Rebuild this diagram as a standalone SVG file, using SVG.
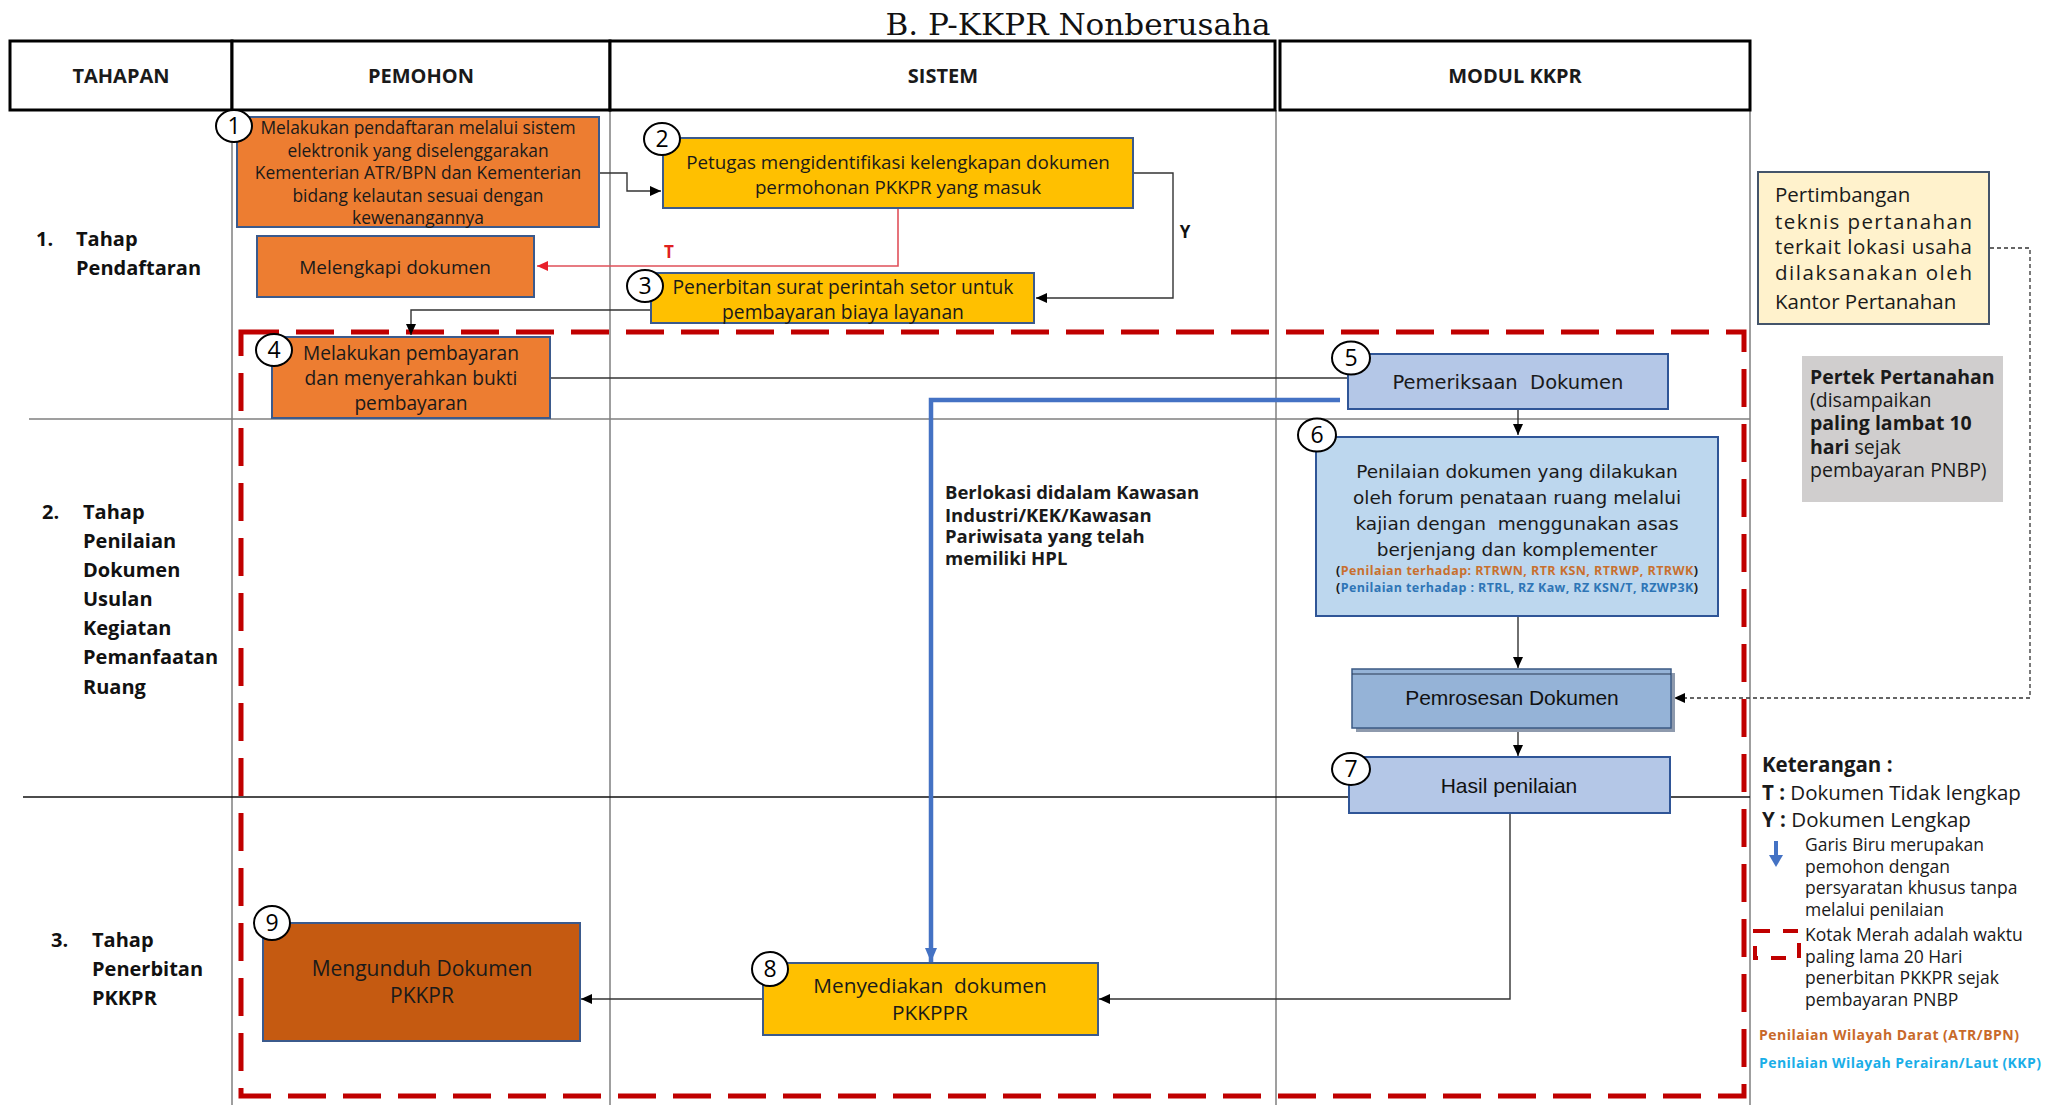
<svg xmlns="http://www.w3.org/2000/svg" width="2054" height="1105" viewBox="0 0 2054 1105">
<defs>
<marker id="ah" markerWidth="12" markerHeight="12" refX="11" refY="6" orient="auto" markerUnits="userSpaceOnUse"><path d="M0,1 L11,6 L0,11 z" fill="#000"/></marker>
<marker id="ahr" markerWidth="12" markerHeight="12" refX="11" refY="6" orient="auto" markerUnits="userSpaceOnUse"><path d="M0,1 L11,6 L0,11 z" fill="#E8202A"/></marker>
<marker id="ahb" markerWidth="16" markerHeight="14" refX="14" refY="7" orient="auto" markerUnits="userSpaceOnUse"><path d="M0,1 L14,7 L0,13 z" fill="#4472C4"/></marker>
</defs>
<style>
.t{font-family:"Open Sans","Noto Sans",sans-serif;fill:#1a1a1a}
.c{text-anchor:middle}
.b{font-weight:bold}
.v{font-family:"DejaVu Sans",sans-serif;fill:#1a1a1a}
.a{font-family:"Liberation Sans",Arial,sans-serif;fill:#111}
.grid{stroke:#7f7f7f;stroke-width:1.5;fill:none}
.hbox{fill:#fff;stroke:#000;stroke-width:3}
.or{fill:#ED7D31;stroke:#3B5A8C;stroke-width:2}
.ye{fill:#FFC000;stroke:#3B5A8C;stroke-width:2}
.bl{fill:#B4C7E7;stroke:#2F5597;stroke-width:2}
.num{fill:#fff;stroke:#000;stroke-width:2}
.nt{font-family:"Open Sans","Noto Sans",sans-serif;font-size:23px;text-anchor:middle;fill:#000}
.conn{fill:none;stroke:#333;stroke-width:1.4}
.stg{font-family:"Open Sans","Noto Sans",sans-serif;font-weight:bold;font-size:20px;fill:#111}
</style>
<rect width="2054" height="1105" fill="#fff"/>

<text x="1078" y="35" font-family="DejaVu Serif, serif" font-size="30" text-anchor="middle" textLength="385" lengthAdjust="spacingAndGlyphs" fill="#111">B. P-KKPR Nonberusaha</text>

<g id="grid">
<line class="grid" x1="232" y1="110" x2="232" y2="1105"/>
<line class="grid" x1="610" y1="110" x2="610" y2="1105"/>
<line class="grid" x1="1276" y1="110" x2="1276" y2="1105"/>
<line class="grid" x1="1750" y1="110" x2="1750" y2="1105"/>
<line class="grid" x1="29" y1="419" x2="1750" y2="419"/>
<line x1="23" y1="797" x2="1750" y2="797" stroke="#111" stroke-width="1.5"/>
</g>

<g id="header">
<rect class="hbox" x="10" y="41" width="222" height="69"/>
<rect class="hbox" x="232" y="41" width="378" height="69"/>
<rect class="hbox" x="610" y="41" width="665" height="69"/>
<rect class="hbox" x="1280" y="41" width="470" height="69"/>
<text class="t c b" x="121" y="83" font-size="20">TAHAPAN</text>
<text class="t c b" x="421" y="83" font-size="20">PEMOHON</text>
<text class="t c b" x="943" y="83" font-size="20">SISTEM</text>
<text class="t c b" x="1515" y="83" font-size="20">MODUL KKPR</text>
</g>

<g id="stages">
<text class="stg" x="36" y="246">1.</text>
<text class="stg" x="76" y="246">Tahap</text>
<text class="stg" x="76" y="275">Pendaftaran</text>
<text class="stg" x="42" y="519">2.</text>
<text class="stg" x="83" y="519">Tahap</text>
<text class="stg" x="83" y="548">Penilaian</text>
<text class="stg" x="83" y="577">Dokumen</text>
<text class="stg" x="83" y="606">Usulan</text>
<text class="stg" x="83" y="635">Kegiatan</text>
<text class="stg" x="83" y="664">Pemanfaatan</text>
<text class="stg" x="83" y="694">Ruang</text>
<text class="stg" x="51" y="947">3.</text>
<text class="stg" x="92" y="947">Tahap</text>
<text class="stg" x="92" y="976">Penerbitan</text>
<text class="stg" x="92" y="1005">PKKPR</text>
</g>

<rect id="batas-waktu" x="241" y="332" width="1503" height="764" fill="none" stroke="#C00000" stroke-width="5" stroke-dasharray="38 17"/>

<g id="connectors">
<path class="conn" d="M599,173 H627 V191 H661" marker-end="url(#ah)"/>
<path d="M898,208 V266 H537" fill="none" stroke="#E0505A" stroke-width="1.6" marker-end="url(#ahr)"/>
<path class="conn" d="M1133,173 H1173 V298 H1036" marker-end="url(#ah)"/>
<path class="conn" d="M650,310 H411 V335" marker-end="url(#ah)"/>
<path class="conn" d="M550,378 H1348" stroke="#555"/>
<path d="M1340,400 H931 V962" fill="none" stroke="#4472C4" stroke-width="4.5" marker-end="url(#ahb)"/>
<path class="conn" d="M1518,409 V435" marker-end="url(#ah)"/>
<path class="conn" d="M1518,616 V668" marker-end="url(#ah)"/>
<path class="conn" d="M1518,728 V756" marker-end="url(#ah)"/>
<path d="M1990,248 H2030 V698 H1674" fill="none" stroke="#333" stroke-width="1.3" stroke-dasharray="4 3" marker-end="url(#ah)"/>
<path class="conn" d="M1510,813 V999 H1099" marker-end="url(#ah)"/>
<path class="conn" d="M763,999 H581" marker-end="url(#ah)"/>
<text x="669" y="258" font-family="Open Sans, sans-serif" font-weight="bold" font-size="17" fill="#E02020" text-anchor="middle">T</text>
<text x="1185" y="238" font-family="Open Sans, sans-serif" font-weight="bold" font-size="17" fill="#111" text-anchor="middle">Y</text>
</g>

<g id="n1">
<rect class="or" x="237" y="117" width="362" height="110"/>
<text class="t c" font-size="17.4"><tspan x="418" y="134">Melakukan pendaftaran melalui sistem</tspan><tspan x="418" y="157">elektronik yang diselenggarakan</tspan><tspan x="418" y="179">Kementerian ATR/BPN dan Kementerian</tspan><tspan x="418" y="202">bidang kelautan sesuai dengan</tspan><tspan x="418" y="224">kewenangannya</tspan></text>
<ellipse class="num" cx="234" cy="126" rx="18" ry="16"/>
<text class="nt" x="234" y="134">1</text>
</g>

<g id="n-melengkapi">
<rect class="or" x="257" y="236" width="277" height="61"/>
<text class="t c" font-size="19" x="395" y="274">Melengkapi dokumen</text>
</g>

<g id="n2">
<rect class="ye" x="663" y="138" width="470" height="70"/>
<text class="t c" font-size="18.8"><tspan x="898" y="169">Petugas mengidentifikasi kelengkapan dokumen</tspan><tspan x="898" y="194">permohonan PKKPR yang masuk</tspan></text>
<ellipse class="num" cx="662" cy="139" rx="18" ry="16"/>
<text class="nt" x="662" y="147">2</text>
</g>

<g id="n3">
<rect class="ye" x="651" y="273" width="383" height="50"/>
<text class="t c" font-size="19.3"><tspan x="843" y="294">Penerbitan surat perintah setor untuk</tspan><tspan x="843" y="319">pembayaran biaya layanan</tspan></text>
<ellipse class="num" cx="645" cy="286" rx="18" ry="16"/>
<text class="nt" x="645" y="294">3</text>
</g>

<g id="n4">
<rect class="or" x="272" y="337" width="278" height="81"/>
<text class="t c" font-size="19.2"><tspan x="411" y="360">Melakukan pembayaran</tspan><tspan x="411" y="385">dan menyerahkan bukti</tspan><tspan x="411" y="410">pembayaran</tspan></text>
<ellipse class="num" cx="274" cy="350" rx="18" ry="16"/>
<text class="nt" x="274" y="358">4</text>
</g>

<g id="n5">
<rect class="bl" x="1348" y="354" width="320" height="55"/>
<text class="v c" font-size="19.5" x="1508" y="389" xml:space="preserve">Pemeriksaan  Dokumen</text>
<ellipse class="num" cx="1351" cy="358" rx="19" ry="16.5"/>
<text class="nt" x="1351" y="366">5</text>
</g>

<g id="n6">
<rect x="1316" y="437" width="402" height="179" fill="#BDD7EE" stroke="#2F5597" stroke-width="2"/>
<text class="v c" font-size="18.5"><tspan x="1517" y="478">Penilaian dokumen yang dilakukan</tspan><tspan x="1517" y="504">oleh forum penataan ruang melalui</tspan><tspan x="1517" y="530" xml:space="preserve">kajian dengan  menggunakan asas</tspan><tspan x="1517" y="556">berjenjang dan komplementer</tspan></text>
<text class="t c b" font-size="12.5" x="1517" y="575" textLength="362" lengthAdjust="spacing">(<tspan fill="#C8702E">Penilaian terhadap: RTRWN, RTR KSN, RTRWP, RTRWK</tspan>)</text>
<text class="t c b" font-size="12.5" x="1517" y="592" textLength="362" lengthAdjust="spacing">(<tspan fill="#2E75B6">Penilaian terhadap : RTRL, RZ Kaw, RZ KSN/T, RZWP3K</tspan>)</text>
<ellipse class="num" cx="1317" cy="435" rx="19" ry="16.5"/>
<text class="nt" x="1317" y="443">6</text>
</g>

<g id="n-pemrosesan">
<rect x="1356" y="673" width="319" height="59" fill="#8E9AAD"/>
<rect x="1352" y="669" width="319" height="59" fill="#95B3D7" stroke="#3B5A84" stroke-width="1.5"/>
<line x1="1352" y1="674" x2="1671" y2="674" stroke="#2a3a55" stroke-width="1.2"/>
<text class="a c" font-size="21" x="1512" y="705">Pemrosesan Dokumen</text>
</g>

<g id="n7">
<rect class="bl" x="1349" y="757" width="321" height="56"/>
<text class="a c" font-size="21" x="1509" y="793">Hasil penilaian</text>
<ellipse class="num" cx="1351" cy="769" rx="19" ry="16"/>
<text class="nt" x="1351" y="777">7</text>
</g>

<g id="n8">
<rect class="ye" x="763" y="963" width="335" height="72"/>
<text class="t c" font-size="20.8" xml:space="preserve"><tspan x="930" y="993">Menyediakan  dokumen</tspan><tspan x="930" y="1020">PKKPPR</tspan></text>
<ellipse class="num" cx="770" cy="969" rx="18" ry="17"/>
<text class="nt" x="770" y="977">8</text>
</g>

<g id="n9">
<rect x="263" y="923" width="317" height="118" fill="#C55A11" stroke="#3B5A8C" stroke-width="2"/>
<text class="t c" font-size="21"><tspan x="422" y="976">Mengunduh Dokumen</tspan><tspan x="422" y="1003">PKKPR</tspan></text>
<ellipse class="num" cx="272" cy="923" rx="18" ry="17"/>
<text class="nt" x="272" y="931">9</text>
</g>

<g id="n-berlokasi">
<text class="t b" font-size="18.5"><tspan x="945" y="499">Berlokasi didalam Kawasan</tspan><tspan x="945" y="522">Industri/KEK/Kawasan</tspan><tspan x="945" y="543">Pariwisata yang telah</tspan><tspan x="945" y="565">memiliki HPL</tspan></text>
</g>

<g id="n-pertimbangan">
<rect x="1758" y="172" width="231" height="152" fill="#FFF2CC" stroke="#44546A" stroke-width="2"/>
<text class="t" font-size="20.5"><tspan x="1775" y="202">Pertimbangan</tspan></text>
<text class="t" font-size="20.5" x="1775" y="229" textLength="197" lengthAdjust="spacing">teknis pertanahan</text>
<text class="t" font-size="20.5" x="1775" y="254" textLength="197" lengthAdjust="spacing">terkait lokasi usaha</text>
<text class="t" font-size="20.5" x="1775" y="280" textLength="197" lengthAdjust="spacing">dilaksanakan oleh</text>
<text class="t" font-size="20.5" x="1775" y="309">Kantor Pertanahan</text>
</g>

<g id="n-pertek">
<rect x="1802" y="356" width="201" height="146" fill="#D0CECE"/>
<text class="t" font-size="19.5"><tspan x="1810" y="384" font-weight="bold">Pertek Pertanahan</tspan><tspan x="1810" y="407">(disampaikan</tspan><tspan x="1810" y="430" font-weight="bold">paling lambat 10</tspan><tspan x="1810" y="454"><tspan font-weight="bold">hari</tspan> sejak</tspan><tspan x="1810" y="477">pembayaran PNBP)</tspan></text>
</g>

<g id="legend">
<text class="t b" font-size="20.5" x="1762" y="772">Keterangan :</text>
<text class="t" font-size="20.5" x="1762" y="800"><tspan font-weight="bold">T :</tspan> Dokumen Tidak lengkap</text>
<text class="t" font-size="20.5" x="1762" y="827"><tspan font-weight="bold">Y :</tspan> Dokumen Lengkap</text>
<line x1="1776" y1="841" x2="1776" y2="856" stroke="#4472C4" stroke-width="4"/>
<path d="M1769,855 L1783,855 L1776,867 z" fill="#4472C4"/>
<text class="t" font-size="17.5"><tspan x="1805" y="851">Garis Biru merupakan</tspan><tspan x="1805" y="873">pemohon dengan</tspan><tspan x="1805" y="894">persyaratan khusus tanpa</tspan><tspan x="1805" y="916">melalui penilaian</tspan></text>
<rect x="1755" y="931" width="44" height="27" fill="none" stroke="#C00000" stroke-width="4" stroke-dasharray="15 13"/>
<text class="t" font-size="17.5"><tspan x="1805" y="941">Kotak Merah adalah waktu</tspan><tspan x="1805" y="963">paling lama 20 Hari</tspan><tspan x="1805" y="984">penerbitan PKKPR sejak</tspan><tspan x="1805" y="1006">pembayaran PNBP</tspan></text>
<text class="t b" font-size="14" x="1759" y="1040" style="fill:#C8692A" textLength="260" lengthAdjust="spacing">Penilaian Wilayah Darat (ATR/BPN)</text>
<text class="t b" font-size="14" x="1759" y="1068" style="fill:#1AAEE8" textLength="282" lengthAdjust="spacing">Penilaian Wilayah Perairan/Laut (KKP)</text>
</g>
</svg>
